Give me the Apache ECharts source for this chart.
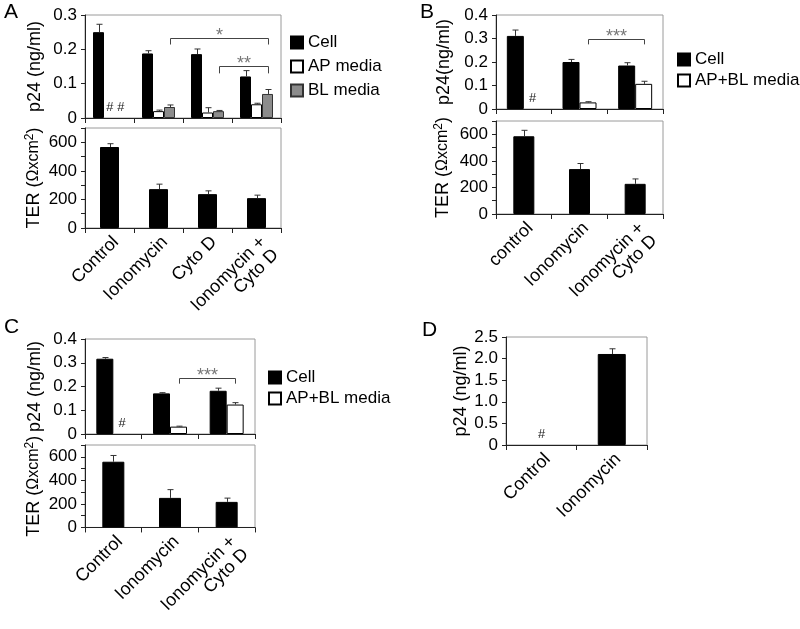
<!DOCTYPE html>
<html>
<head>
<meta charset="utf-8">
<script src="https://cdn.jsdelivr.net/npm/echarts@6/dist/echarts.min.js"></script>
<style>
html,body{margin:0;padding:0;background:#fff;}
#chart{width:800px;height:629px;}
</style>
</head>
<body>
<div id="chart"></div>
<script>
// ---------- DATA ----------
const catsA = ['Control', 'Ionomycin', 'Cyto D', 'Ionomycin +\nCyto D'];
const catsB = ['control', 'Ionomycin', 'Ionomycin +\nCyto D'];
const catsC = ['Control', 'Ionomycin', 'Ionomycin +\nCyto D'];
const catsD = ['Control', 'Ionomycin'];

// Panel A, p24 (ng/ml)
const aCell = [0.250, 0.188, 0.186, 0.121];
const aCellErr = [0.023, 0.008, 0.015, 0.017];
const aAP = [null, 0.020, 0.016, 0.040];
const aAPErr = [0, 0.003, 0.014, 0.003];
const aBL = [null, 0.032, 0.020, 0.070];
const aBLErr = [0, 0.006, 0.002, 0.013];
// Panel A, TER
const aTER = [567, 272, 237, 209];
const aTERErr = [23, 35, 23, 21];

// Panel B
const bCell = [0.311, 0.200, 0.185];
const bCellErr = [0.025, 0.011, 0.012];
const bMedia = [null, 0.028, 0.107];
const bMediaErr = [0, 0.003, 0.011];
const bTER = [585, 338, 227];
const bTERErr = [45, 42, 37];

// Panel C
const cCell = [0.317, 0.171, 0.182];
const cCellErr = [0.005, 0.003, 0.011];
const cMedia = [null, 0.031, 0.124];
const cMediaErr = [0, 0.002, 0.008];
const cTER = [558, 251, 217];
const cTERErr = [53, 70, 32];

// Panel D
const dIono = [null, 2.107];
const dIonoErr = [0, 0.12];

// "#" = not detected: [category index, series index]
const markA = [[0, 1], [0, 2]];
const markB = [[0, 1]];
const markC = [[0, 1]];
const markD = [[0, 0]];

// significance brackets: [fromCat, toCat, seriesIdx, topValue, legValue, label]
const brA = [[1, 3, 2, 0.234, 0.214, '*'], [2, 3, 2, 0.151, 0.130, '**']];
const brB = [[1, 2, 1, 0.300, 0.275, '***']];
const brC = [[1, 2, 1, 0.237, 0.212, '***']];

// ---------- LAYOUT ----------
const FONT = "'Liberation Sans', Arial, sans-serif";
const grids = [
  {left: 85, top: 15, width: 196, height: 103},   // A top
  {left: 85, top: 128, width: 196, height: 100},  // A bottom
  {left: 496, top: 15, width: 167, height: 94},   // B top
  {left: 496, top: 121, width: 167, height: 93},  // B bottom
  {left: 85, top: 339, width: 170, height: 95},   // C top
  {left: 85, top: 445, width: 170, height: 97},   // C bottom
  {left: 506, top: 337, width: 141, height: 108}  // D
].map(g => Object.assign({show: true, borderColor: '#9a9a9a', borderWidth: 1, containLabel: false}, g));

function xAxis(gi, cats, showLabels) {
  return {
    type: 'category', gridIndex: gi, data: cats,
    axisLine: {show: true, lineStyle: {color: '#222', width: 1}},
    axisTick: {show: true, length: 5, lineStyle: {color: '#222'}},
    axisLabel: {show: showLabels, rotate: 45, fontSize: 18, fontFamily: FONT, color: '#000', margin: 5,
      lineHeight: 18, verticalAlign: 'top', align: 'right'},
    splitLine: {show: false}
  };
}
function yAxis(gi, max, interval, name, nameGap, fmt) {
  return {
    type: 'value', gridIndex: gi, min: 0, max: max, interval: interval,
    name: name, nameLocation: 'middle', nameGap: nameGap,
    nameTextStyle: {fontSize: 18, fontFamily: FONT, color: '#000',
      rich: {
        n: {fontSize: 18, fontFamily: FONT, color: '#000'},
        o: {fontSize: 16, fontFamily: FONT, color: '#000'},
        p: {fontSize: 12, fontFamily: FONT, color: '#000', verticalAlign: 'top', padding: [0, 0, 8, 0]}
      }},
    axisLine: {show: true, lineStyle: {color: '#222', width: 1}},
    axisTick: {show: true, length: 4, lineStyle: {color: '#222'}},
    axisLabel: {fontSize: 17, fontFamily: FONT, color: '#000', margin: 8, formatter: fmt},
    splitLine: {show: false}
  };
}
const fmtP = v => v === 0 ? '0' : String(+v.toFixed(2));
const fmtT = v => (Math.round(v) % 200 === 0) ? String(Math.round(v)) : '';
const fmtD = v => v === 0 ? '0' : v.toFixed(1);
const TER = '{n|TER (}{o|Ωxcm}{p|2}{n|)}';

const styleCell = {color: '#000', borderColor: '#000', borderWidth: 1};
const styleWhite = {color: '#fff', borderColor: '#000', borderWidth: 1};
const styleGray = {color: '#8c8c8c', borderColor: '#333', borderWidth: 1};

function bar(gi, name, data, w, st) {
  return {type: 'bar', name: name, xAxisIndex: gi, yAxisIndex: gi, data: data,
    barWidth: w, barGap: '0%', itemStyle: st, silent: true, z: 2};
}
function errBars(gi, values, errs, n, idx, w) {
  const d = [];
  values.forEach((v, i) => { if (v != null) d.push([i, v, v + errs[i]]); });
  return {
    type: 'custom', xAxisIndex: gi, yAxisIndex: gi, silent: true, z: 5, data: d,
    renderItem(params, api) {
      const c = api.value(0);
      const b = api.coord([c, api.value(1)]);
      const t = api.coord([c, api.value(2)]);
      const x = Math.round(b[0] + (idx - (n - 1) / 2) * w) + 0.5;
      const st = {stroke: '#333', lineWidth: 1};
      return {type: 'group', children: [
        {type: 'line', shape: {x1: x, y1: b[1], x2: x, y2: t[1]}, style: st},
        {type: 'line', shape: {x1: x - 3, y1: t[1], x2: x + 3, y2: t[1]}, style: st}
      ]};
    }
  };
}
function marks(gi, data, n, w) {
  return {
    type: 'custom', xAxisIndex: gi, yAxisIndex: gi, silent: true, z: 6,
    data: data.map(m => [m[0], m[1]]),
    renderItem(params, api) {
      const p = api.coord([api.value(0), 0]);
      const x = p[0] + (api.value(1) - (n - 1) / 2) * w;
      return {type: 'text', x: x, y: p[1] - 4,
        style: {text: '#', fontSize: 13, fontFamily: FONT, fontStyle: 'italic', fill: '#222', align: 'center', verticalAlign: 'bottom'}};
    }
  };
}
function brackets(gi, data, n, w) {
  return {
    type: 'custom', xAxisIndex: gi, yAxisIndex: gi, silent: true, z: 6,
    data: data.map(b => [b[0], b[1], b[2], b[3], b[4]]),
    renderItem(params, api) {
      const b = data[params.dataIndex];
      const off = (api.value(2) - (n - 1) / 2) * w;
      const p1 = api.coord([api.value(0), api.value(3)]);
      const p2 = api.coord([api.value(1), api.value(3)]);
      const l1 = api.coord([api.value(0), api.value(4)]);
      const x1 = Math.round(p1[0] + off) + 0.5, x2 = Math.round(p2[0] + off) + 0.5;
      const y = Math.round(p1[1]) + 0.5;
      return {type: 'group', children: [
        {type: 'polyline', shape: {points: [[x1, l1[1]], [x1, y], [x2, y], [x2, l1[1]]]},
          style: {stroke: '#444', lineWidth: 1, fill: null}},
        {type: 'text', x: (x1 + x2) / 2, y: y + 7,
          style: {text: b[5], fontSize: 18, fontFamily: FONT, fill: '#777', align: 'center', verticalAlign: 'bottom'}}
      ]};
    }
  };
}

const series = [
  // A top
  bar(0, 'Cell', aCell, 11, styleCell), bar(0, 'AP media', aAP, 11, styleWhite), bar(0, 'BL media', aBL, 11, styleGray),
  errBars(0, aCell, aCellErr, 3, 0, 11), errBars(0, aAP, aAPErr, 3, 1, 11), errBars(0, aBL, aBLErr, 3, 2, 11),
  marks(0, markA, 3, 11), brackets(0, brA, 3, 11),
  // A bottom
  bar(1, 'TER A', aTER, 19, styleCell), errBars(1, aTER, aTERErr, 1, 0, 19),
  // B top
  bar(2, 'Cell', bCell, 17, styleCell), bar(2, 'AP+BL media', bMedia, 17, styleWhite),
  errBars(2, bCell, bCellErr, 2, 0, 17), errBars(2, bMedia, bMediaErr, 2, 1, 17),
  marks(2, markB, 2, 17), brackets(2, brB, 2, 17),
  // B bottom
  bar(3, 'TER B', bTER, 21, styleCell), errBars(3, bTER, bTERErr, 1, 0, 21),
  // C top
  bar(4, 'Cell', cCell, 17, styleCell), bar(4, 'AP+BL media', cMedia, 17, styleWhite),
  errBars(4, cCell, cCellErr, 2, 0, 17), errBars(4, cMedia, cMediaErr, 2, 1, 17),
  marks(4, markC, 2, 17), brackets(4, brC, 2, 17),
  // C bottom
  bar(5, 'TER C', cTER, 22, styleCell), errBars(5, cTER, cTERErr, 1, 0, 22),
  // D
  bar(6, 'p24 D', dIono, 28, styleCell), errBars(6, dIono, dIonoErr, 1, 0, 28),
  marks(6, markD, 1, 28)
];

const legendBase = {orient: 'vertical', icon: 'rect', itemWidth: 12, itemHeight: 12, selectedMode: false,
  textStyle: {fontSize: 17, fontFamily: FONT, color: '#000'}, padding: 0};

const panelLetter = (t, x, y) => ({type: 'text', left: x, top: y,
  style: {text: t, fontSize: 21, fontFamily: FONT, fill: '#000'}});

const option = {
  animation: false,
  backgroundColor: '#fff',
  grid: grids,
  xAxis: [xAxis(0, catsA, false), xAxis(1, catsA, true), xAxis(2, catsB, false), xAxis(3, catsB, true),
          xAxis(4, catsC, false), xAxis(5, catsC, true), xAxis(6, catsD, true)],
  yAxis: [yAxis(0, 0.3, 0.1, 'p24 (ng/ml)', 41, fmtP), yAxis(1, 700, 100, TER, 41, fmtT),
          yAxis(2, 0.4, 0.1, 'p24(ng/ml)', 43, fmtP), yAxis(3, 700, 100, TER, 43, fmtT),
          yAxis(4, 0.4, 0.1, 'p24 (ng/ml)', 41, fmtP), yAxis(5, 700, 100, TER, 41, fmtT),
          yAxis(6, 2.5, 0.5, 'p24 (ng/ml)', 36, fmtD)],
  legend: [
    Object.assign({}, legendBase, {data: ['Cell', 'AP media', 'BL media'], left: 290, top: 34, itemGap: 7}),
    Object.assign({}, legendBase, {data: ['Cell', 'AP+BL media'], left: 677, top: 51, itemGap: 4}),
    Object.assign({}, legendBase, {data: ['Cell', 'AP+BL media'], left: 268, top: 369, itemGap: 4})
  ],
  graphic: [panelLetter('A', 4, 2), panelLetter('B', 420, 2), panelLetter('C', 4, 317), panelLetter('D', 422, 320)],
  series: series
};

const chart = echarts.init(document.getElementById('chart'), null, {renderer: 'canvas'});
chart.setOption(option);
</script>
</body>
</html>
